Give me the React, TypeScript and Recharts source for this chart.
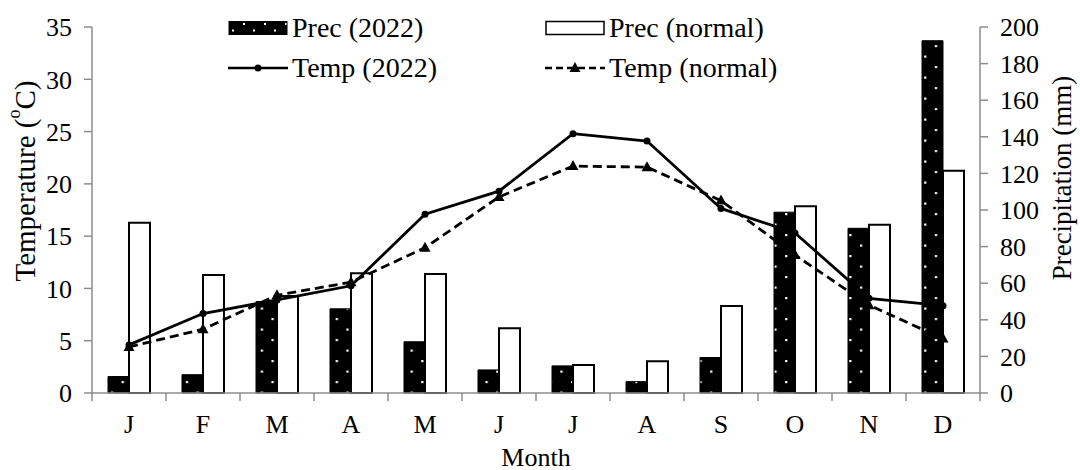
import React from 'react';
import { ComposedChart, Bar, Line, XAxis, YAxis } from 'recharts';

const months = ['J', 'F', 'M', 'A', 'M', 'J', 'J', 'A', 'S', 'O', 'N', 'D'];
const prec2022 = [9, 10, 50, 46, 28, 12.6, 14.8, 6.2, 19.4, 98.8, 90, 192.5];
const precNormal = [93, 64.5, 53, 65.4, 65, 35.4, 15.3, 17.3, 47.6, 102, 92, 121.5];
const temp2022 = [4.6, 7.6, 8.9, 10.25, 17.1, 19.3, 24.8, 24.1, 17.65, 15.3, 9.05, 8.35];
const tempNormal = [4.4, 6.1, 9.35, 10.6, 13.9, 18.75, 21.7, 21.6, 18.4, 13.2, 8.4, 5.2];
const tempTicks = [0, 5, 10, 15, 20, 25, 30, 35];
const precTicks = [0, 20, 40, 60, 80, 100, 120, 140, 160, 180, 200];

const data = months.map((m, i) => ({
  idx: i,
  prec2022: prec2022[i],
  precNormal: precNormal[i],
  temp2022: temp2022[i],
  tempNormal: tempNormal[i],
}));

const FONT = '"Liberation Serif", "Times New Roman", serif';
const AXIS = '#8c8c8c';
const W = 1080;
const H = 470;
const LEFT_W = 92;
const RIGHT_W = 100;
const BAND = (W - LEFT_W - RIGHT_W) / months.length;

const MonthTick = (props: any) => {
  const { x, y, payload, index } = props;
  const half = BAND / 2;
  return (
    <g>
      <line x1={x - half} y1={y} x2={x - half} y2={y + 8} stroke={AXIS} strokeWidth={1.5} />
      {index === months.length - 1 && (
        <line x1={x + half} y1={y} x2={x + half} y2={y + 8} stroke={AXIS} strokeWidth={1.5} />
      )}
      <text x={x} y={y + 40} textAnchor="middle" fontFamily={FONT} fontSize={26} fill="#000">
        {months[payload.value]}
      </text>
    </g>
  );
};

const Triangle = (props: any) => {
  const { cx, cy } = props;
  if (cx == null || cy == null) return null;
  return <path d={`M${cx},${cy - 6} L${cx + 5.5},${cy + 4} L${cx - 5.5},${cy + 4} Z`} fill="#000" />;
};

const LeftTitle = (props: any) => {
  const { viewBox } = props;
  const cx = viewBox.x + 25;
  const cy = viewBox.y + viewBox.height / 2 - 29;
  return (
    <text x={cx} y={cy} transform={`rotate(-90 ${cx} ${cy})`} textAnchor="middle" dominantBaseline="central" fontFamily={FONT} fontSize={29} fill="#000">
      Temperature (<tspan fontSize={18} dy={-11}>o</tspan><tspan dy={11}>C)</tspan>
    </text>
  );
};

const RightTitle = (props: any) => {
  const { viewBox } = props;
  const cx = viewBox.x + 82;
  const cy = viewBox.y + viewBox.height / 2 - 32;
  return (
    <text x={cx} y={cy} transform={`rotate(-90 ${cx} ${cy})`} textAnchor="middle" dominantBaseline="central" fontFamily={FONT} fontSize={27} fill="#000">
      Precipitation (mm)
    </text>
  );
};

const SW = 60;

const Swatch = ({ kind }: { kind: string }) => {
  if (kind === 'black') {
    return (
      <svg width={SW} height={16}>
        <rect x={1} y={1.5} width={SW - 2} height={13} fill="url(#legendDots)" stroke="#000" strokeWidth={1} />
      </svg>
    );
  }
  if (kind === 'white') {
    return (
      <svg width={SW} height={16}>
        <rect x={1} y={1.5} width={SW - 2} height={13} fill="#fff" stroke="#000" strokeWidth={1.5} />
      </svg>
    );
  }
  if (kind === 'solid') {
    return (
      <svg width={SW} height={16}>
        <line x1={0} y1={8} x2={SW} y2={8} stroke="#000" strokeWidth={2.5} />
        <circle cx={SW / 2} cy={8} r={3.5} fill="#000" />
      </svg>
    );
  }
  return (
    <svg width={SW} height={16}>
      <line x1={0} y1={8} x2={SW} y2={8} stroke="#000" strokeWidth={2.5} strokeDasharray="7 4" />
      <path d={`M${SW / 2},2 L${SW / 2 + 5.5},12 L${SW / 2 - 5.5},12 Z`} fill="#000" />
    </svg>
  );
};

const legendItems = [
  { label: 'Prec (2022)', kind: 'black', left: 228, top: 28 },
  { label: 'Prec (normal)', kind: 'white', left: 545, top: 28 },
  { label: 'Temp (2022)', kind: 'solid', left: 228, top: 68 },
  { label: 'Temp (normal)', kind: 'dashed', left: 545, top: 68 },
];

export default function App() {
  return (
    <div style={{ position: 'absolute', left: 0, top: 0, width: W, height: H, background: '#fff' }}>
      <svg width={0} height={0} style={{ position: 'absolute' }}>
        <defs>
          <pattern id="legendDots" patternUnits="userSpaceOnUse" width={21} height={13}>
            <rect width={21} height={13} fill="#000" />
            <rect x={4} y={9.5} width={2} height={2} fill="#fff" />
            <rect x={15} y={3} width={2} height={2} fill="#fff" />
          </pattern>
        </defs>
      </svg>
      <ComposedChart
        width={W}
        height={H}
        data={data}
        margin={{ top: 27, right: 0, bottom: 0, left: 0 }}
        barGap={0}
        barSize={21}
      >
        <defs>
          <pattern id="barDots" patternUnits="userSpaceOnUse" width={21.4} height={21}>
            <rect width={21.4} height={21} fill="#000" />
            <rect x={4} y={13.5} width={2.2} height={2.2} fill="#fff" />
            <rect x={14.7} y={3} width={2.2} height={2.2} fill="#fff" />
          </pattern>
        </defs>
        <XAxis
          dataKey="idx"
          type="category"
          height={77}
          tickSize={0}
          tickMargin={0}
          tickLine={false}
          axisLine={{ stroke: AXIS, strokeWidth: 1.5 }}
          tick={<MonthTick />}
          interval={0}
        />
        <YAxis
          yAxisId="left"
          orientation="left"
          width={LEFT_W}
          domain={[0, 35]}
          ticks={tempTicks}
          interval={0}
          tickSize={8}
          tickMargin={12}
          axisLine={{ stroke: AXIS, strokeWidth: 1.5 }}
          tickLine={{ stroke: AXIS, strokeWidth: 1.5 }}
          tick={{ fontFamily: FONT, fontSize: 26, fill: '#000' }}
          label={<LeftTitle />}
        />
        <YAxis
          yAxisId="right"
          orientation="right"
          width={RIGHT_W}
          domain={[0, 200]}
          ticks={precTicks}
          interval={0}
          tickSize={8}
          tickMargin={12}
          axisLine={{ stroke: AXIS, strokeWidth: 1.5 }}
          tickLine={{ stroke: AXIS, strokeWidth: 1.5 }}
          tick={{ fontFamily: FONT, fontSize: 26, fill: '#000' }}
          label={<RightTitle />}
        />
        <Bar yAxisId="right" dataKey="prec2022" fill="url(#barDots)" stroke="#000" strokeWidth={1} isAnimationActive={false} />
        <Bar yAxisId="right" dataKey="precNormal" fill="#fff" stroke="#000" strokeWidth={2} isAnimationActive={false} />
        <Line
          yAxisId="left"
          dataKey="temp2022"
          stroke="#000"
          strokeWidth={2.8}
          dot={{ r: 3.5, fill: '#000', stroke: '#000', strokeWidth: 0 }}
          isAnimationActive={false}
        />
        <Line
          yAxisId="left"
          dataKey="tempNormal"
          stroke="#000"
          strokeWidth={2.8}
          strokeDasharray="9 5"
          dot={<Triangle />}
          isAnimationActive={false}
        />
      </ComposedChart>
      <div
        style={{
          position: 'absolute',
          left: LEFT_W,
          width: W - LEFT_W - RIGHT_W,
          top: 440,
          textAlign: 'center',
          fontFamily: FONT,
          fontSize: 26,
          lineHeight: '36px',
          color: '#000',
        }}
      >
        Month
      </div>
      {legendItems.map((it) => (
        <div
          key={it.label}
          style={{
            position: 'absolute',
            left: it.left,
            top: it.top - 17,
            height: 34,
            display: 'flex',
            alignItems: 'center',
            fontFamily: FONT,
            fontSize: 28,
            color: '#000',
            whiteSpace: 'nowrap',
          }}
        >
          <Swatch kind={it.kind} />
          <span style={{ marginLeft: 4 }}>{it.label}</span>
        </div>
      ))}
    </div>
  );
}
